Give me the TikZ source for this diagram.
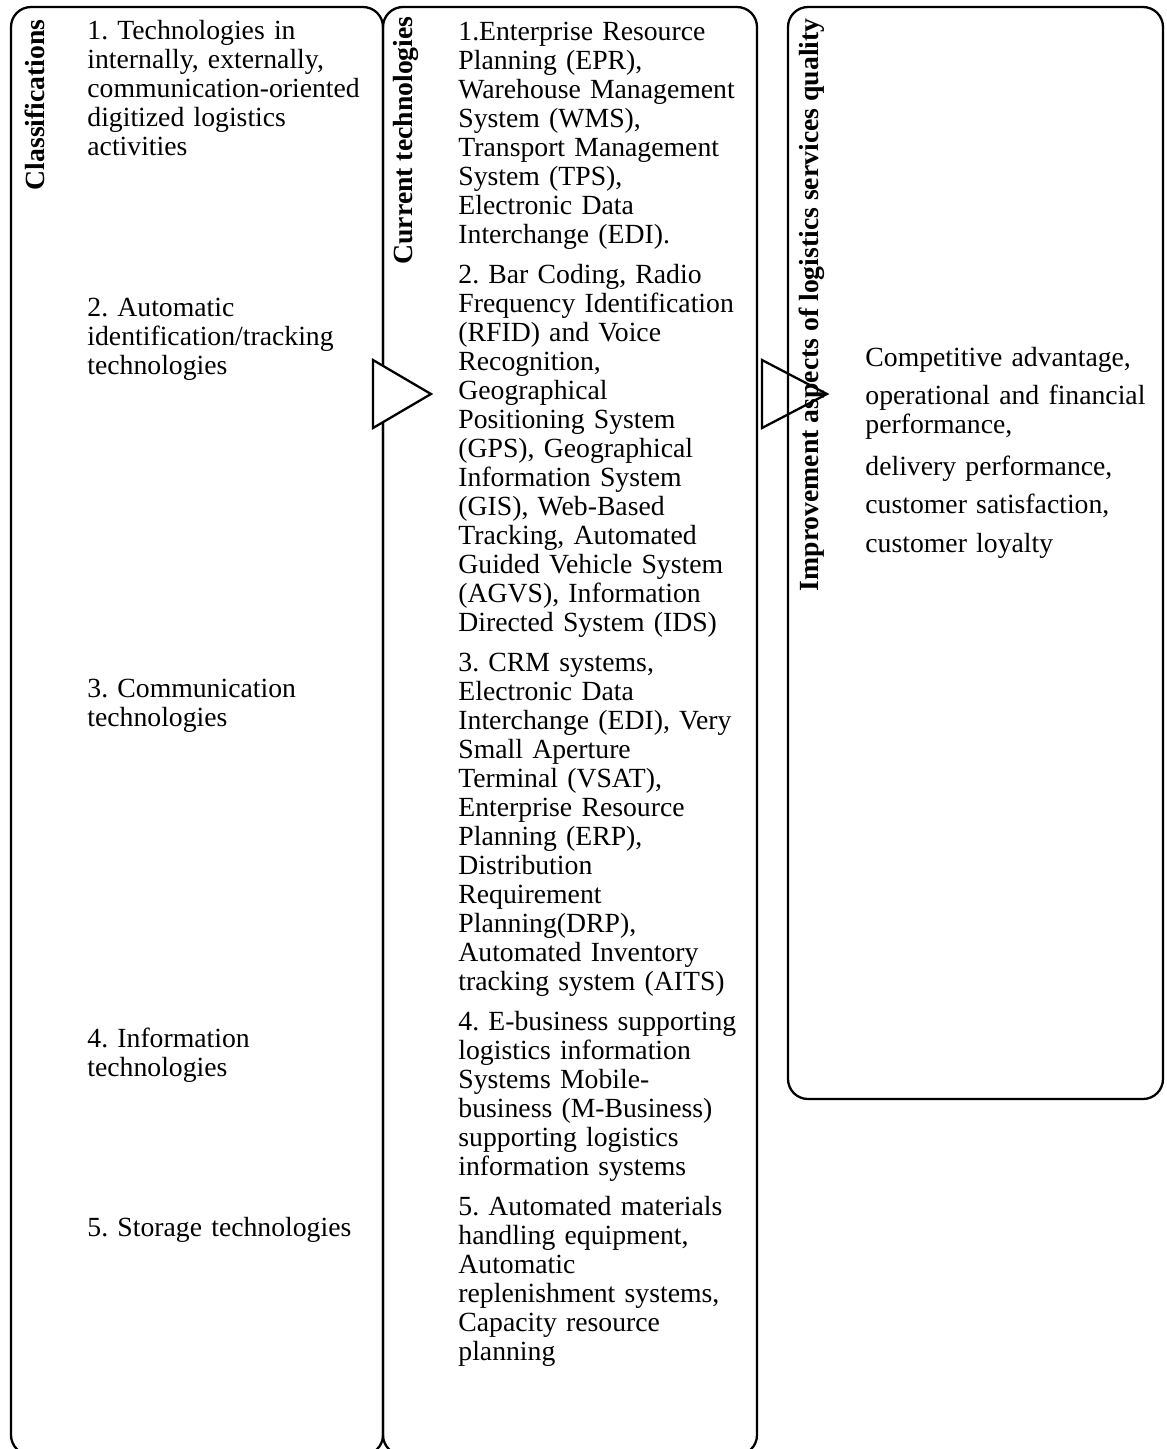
\documentclass[tikz,border=0pt]{standalone}
\usepackage{fontspec}
\setmainfont{Liberation Serif}
\frenchspacing
\begin{document}
\begin{tikzpicture}[x=0.48pt, y=-0.48pt,
  panel/.style={draw=black, line width=1.1pt, rounded corners=9.6pt},
  flowtip/.style={draw=black, line width=1.1pt, fill=white, line join=miter},
  heading/.style={font=\fontsize{13.3}{13.9}\selectfont\bfseries, rotate=90,
    anchor=east, inner sep=0pt},
  entry/.style={font=\fontsize{13.3}{13.92}\selectfont\frenchspacing, anchor=base west,
    inner sep=0pt, align=left, text width=150pt}]
\useasboundingbox (0,0) rectangle (1167,1449);

% the two tall panels
\draw[panel] (11,7) rectangle (383,1455);
\draw[panel] (383,7) rectangle (757,1455);

% arrow heads between the panels
\draw[flowtip] (373,360) -- (431,394) -- (373,428) -- cycle;
\draw[flowtip] (762,360) -- (827,394) -- (762,428) -- cycle;

% outcome panel
\draw[panel] (788,7) rectangle (1163,1099);

% panel titles
\node[heading] (h1) at (35,19) {Classifications};
\node[heading] (h2) at (406,16) {Current technologies};
\node[heading] (h3) at (812,18) {Improvement aspects of logistics services quality};

% classifications
\node[entry] (c1) at (87,39) {1. Technologies in\\internally, externally,\\communication-oriented\\digitized logistics\\activities};
\node[entry] (c2) at (87,316) {2. Automatic\\identification/tracking\\technologies};
\node[entry] (c3) at (87,697) {3. Communication\\technologies};
\node[entry] (c4) at (87,1047) {4. Information\\technologies};
\node[entry] (c5) at (87,1236) {5. Storage technologies};

% current technologies
\node[entry] (m1) at (458,40) {1.Enterprise Resource\\Planning (EPR),\\Warehouse Management\\System (WMS),\\Transport Management\\System (TPS),\\Electronic Data\\Interchange (EDI).};
\node[entry] (m2) at (458,283) {2. Bar Coding, Radio\\Frequency Identification\\(RFID) and Voice\\Recognition,\\Geographical\\Positioning System\\(GPS), Geographical\\Information System\\(GIS), Web-Based\\Tracking, Automated\\Guided Vehicle System\\(AGVS), Information\\Directed System (IDS)};
\node[entry] (m3) at (458,671) {3. CRM systems,\\Electronic Data\\Interchange (EDI), Very\\Small Aperture\\Terminal (VSAT),\\Enterprise Resource\\Planning (ERP),\\Distribution\\Requirement\\Planning(DRP),\\Automated Inventory\\tracking system (AITS)};
\node[entry] (m4) at (458,1030) {4. E-business supporting\\logistics information\\Systems Mobile-\\business (M-Business)\\supporting logistics\\information systems};
\node[entry] (m5) at (458,1215) {5. Automated materials\\handling equipment,\\Automatic\\replenishment systems,\\Capacity resource\\planning};

% improvement aspects
\node[entry] (r1) at (865,366) {Competitive advantage,};
\node[entry] (r2) at (865,404) {operational and financial\\performance,};
\node[entry] (r3) at (865,475) {delivery performance,};
\node[entry] (r4) at (865,513) {customer satisfaction,};
\node[entry] (r5) at (865,552) {customer loyalty};
\end{tikzpicture}
\end{document}
